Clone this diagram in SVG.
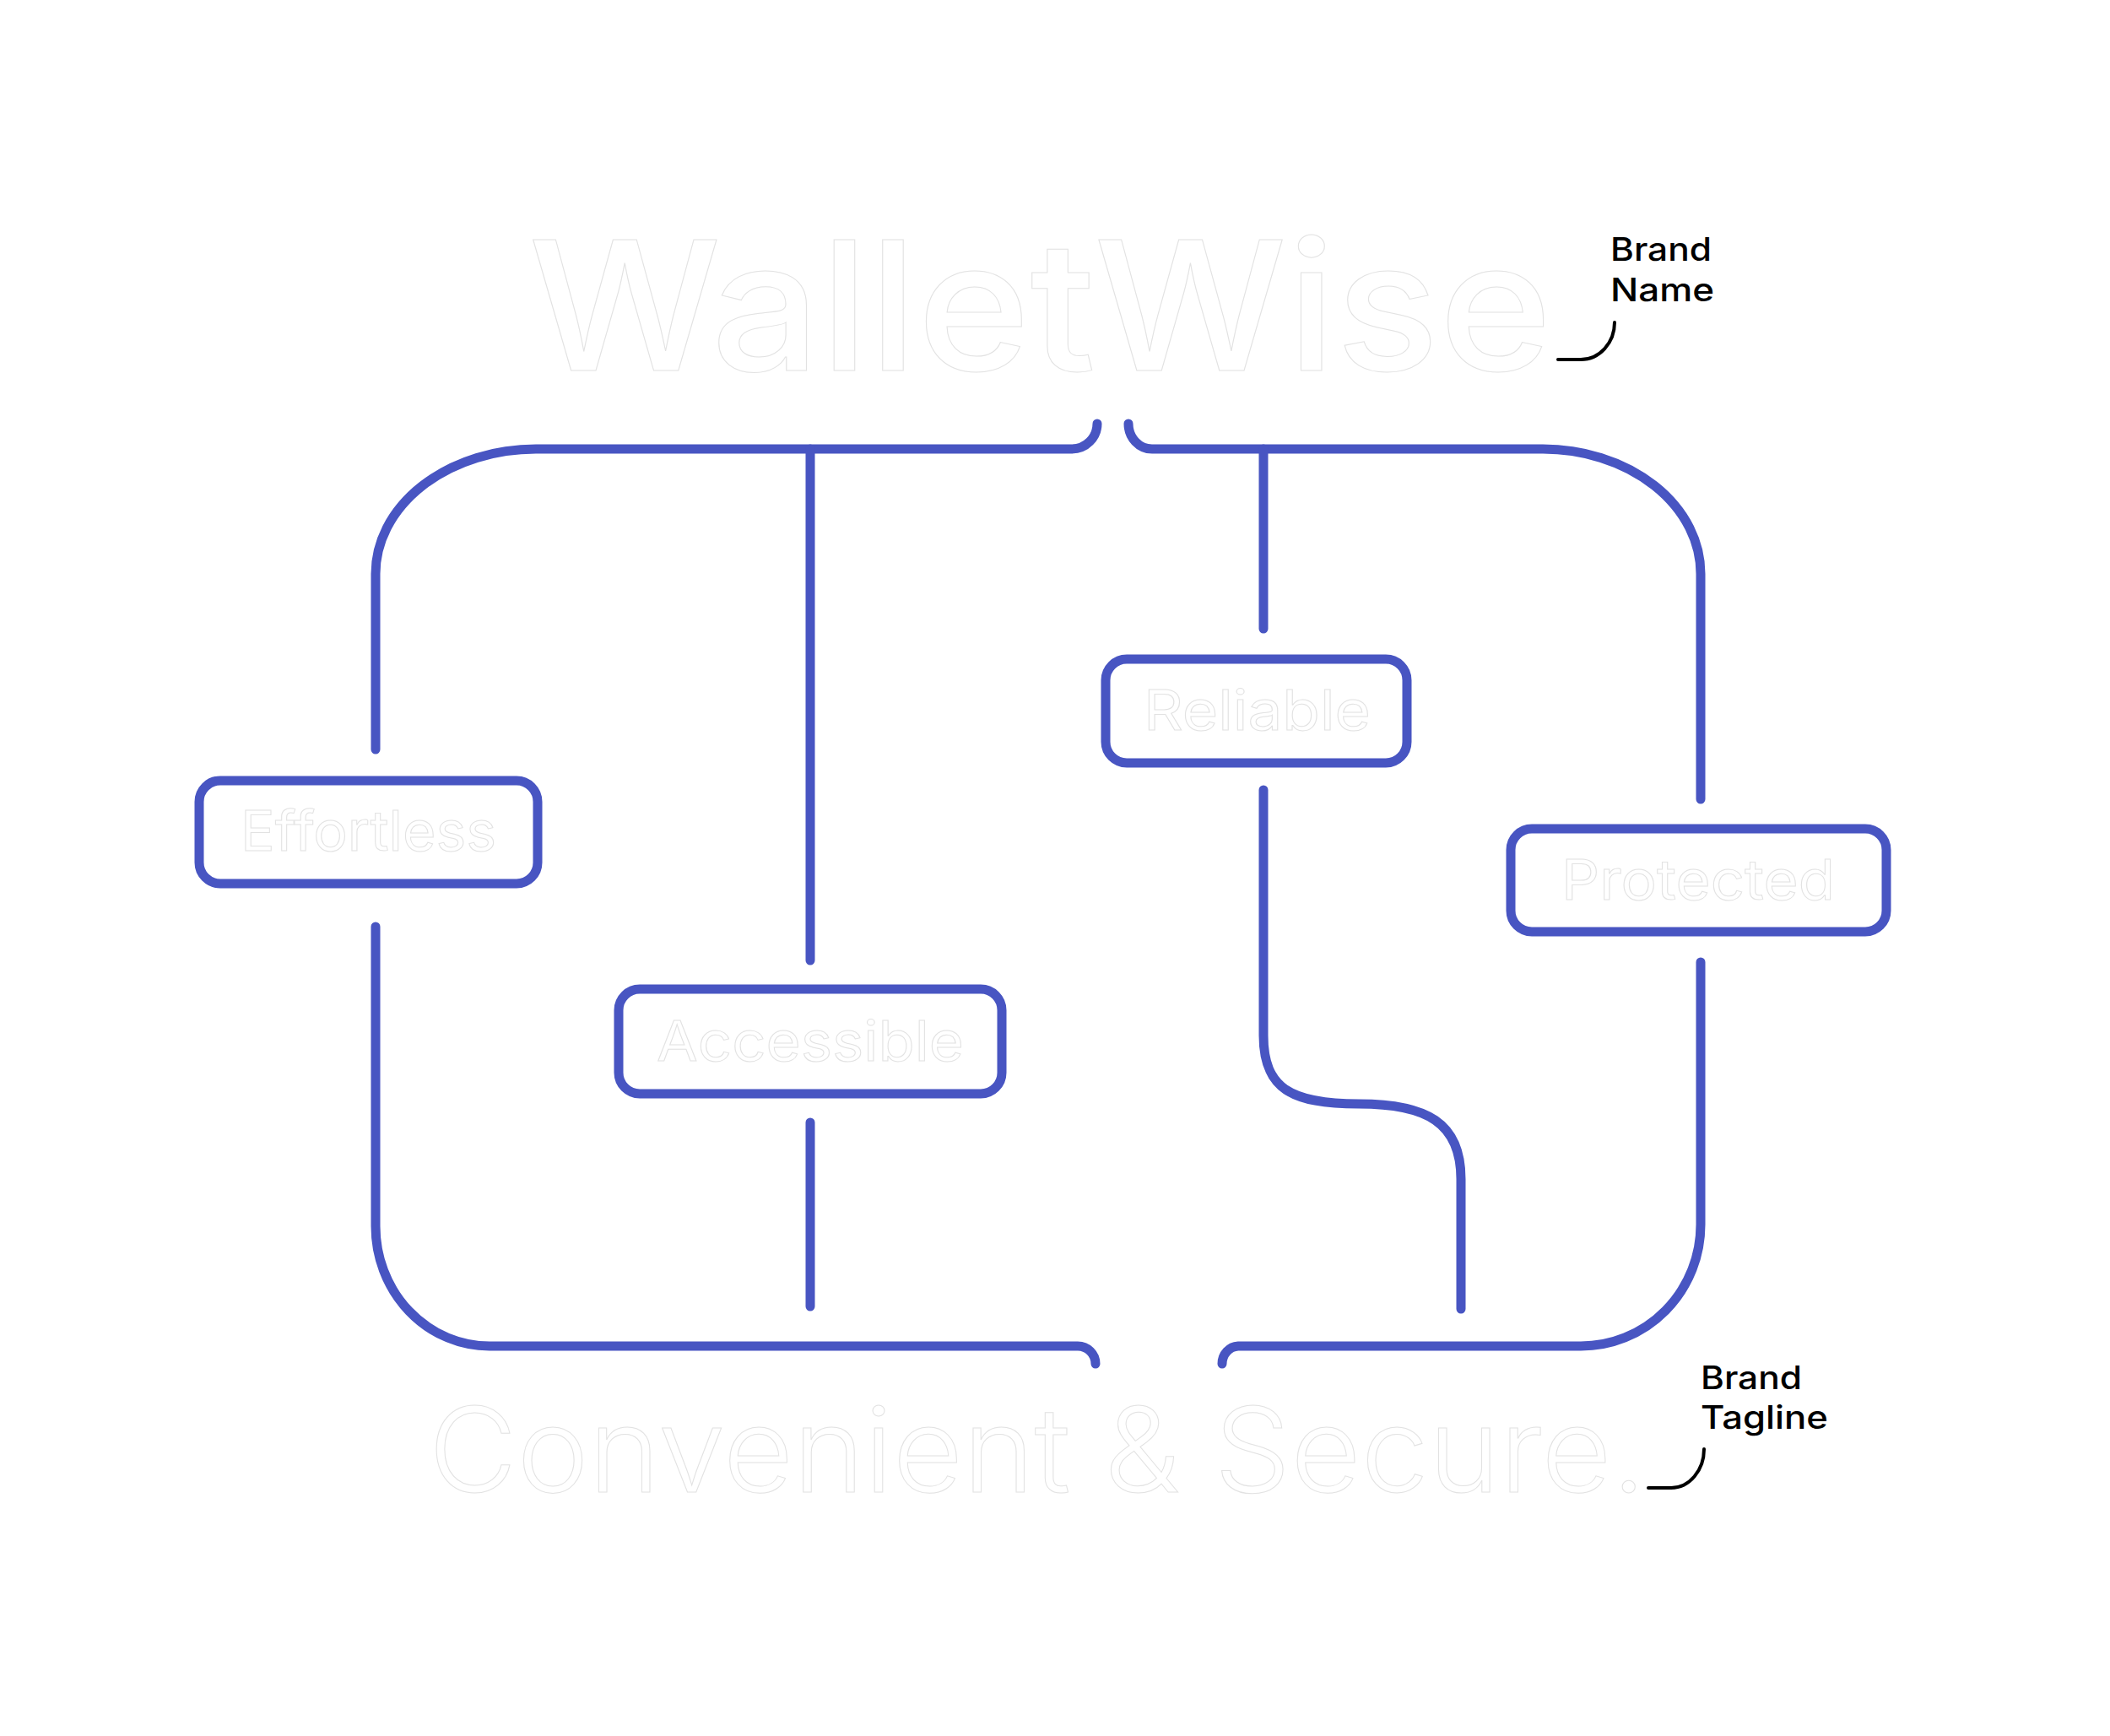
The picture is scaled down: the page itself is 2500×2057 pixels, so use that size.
<svg xmlns="http://www.w3.org/2000/svg" width="2500" height="2057" viewBox="0 0 2500 2057">
  <style>
    .conn { fill: none; stroke: #4855C2; stroke-width: 11; stroke-linecap: round; stroke-linejoin: round; }
    .box { fill: #ffffff; stroke: #4855C2; stroke-width: 11; }
    .ghost { fill: #ffffff; stroke: #e2e2e2; stroke-width: 1; font-family: Inter, "Liberation Sans", sans-serif; }
    .label { font-size: 66px; font-weight: 400; }
    .note { fill: #000000; font-family: Inter, "Liberation Sans", sans-serif; font-size: 38px; font-weight: 500; }
    .noteline { fill: none; stroke: #000000; stroke-width: 4; stroke-linecap: round; }
  </style>
  <rect x="0" y="0" width="2500" height="2057" fill="#ffffff"/>

  <g id="connectors">
    <path class="conn" d="M445,888 V680 A190,148 0 0 1 635,532 H1270 A30,30 0 0 0 1300,502"/>
    <path class="conn" d="M960,532 V1138"/>
    <path class="conn" d="M1337,502 A28,30 0 0 0 1365,532 H1828 A187,148 0 0 1 2015,680 V947"/>
    <path class="conn" d="M1497,532 V745"/>
    <path class="conn" d="M445,1098 V1453 A135,142 0 0 0 580,1595 H1277 A21,21 0 0 1 1298,1616"/>
    <path class="conn" d="M960,1330 V1548"/>
    <path class="conn" d="M1497,936 V1227 C1497,1290 1530,1308 1610,1308 C1690,1308 1731,1330 1731,1397 V1551"/>
    <path class="conn" d="M2015,1140 V1451 A142,144 0 0 1 1873,1595 H1467 A20,21 0 0 0 1448,1616"/>
  </g>

  <g id="brand-name">
    <text class="ghost" x="626" y="439" font-size="213" font-weight="500" textLength="1213" lengthAdjust="spacingAndGlyphs">WalletWise</text>
  </g>

  <g id="brand-tagline">
    <text class="ghost" x="508" y="1768" font-size="140" font-weight="300" textLength="1442" lengthAdjust="spacingAndGlyphs">Convenient &amp; Secure.</text>
  </g>

  <g id="node-effortless">
    <rect class="box" x="236" y="925" width="401" height="122" rx="25" ry="25"/>
    <text class="ghost label" x="285" y="1008" textLength="303" lengthAdjust="spacingAndGlyphs">Effortless</text>
  </g>

  <g id="node-accessible">
    <rect class="box" x="733" y="1172" width="454" height="124" rx="25" ry="25"/>
    <text class="ghost label" x="778" y="1257" textLength="364" lengthAdjust="spacingAndGlyphs">Accessible</text>
  </g>

  <g id="node-reliable">
    <rect class="box" x="1310" y="781" width="357" height="123" rx="25" ry="25"/>
    <text class="ghost label" x="1355" y="865" textLength="269" lengthAdjust="spacingAndGlyphs">Reliable</text>
  </g>

  <g id="node-protected">
    <rect class="box" x="1790" y="982" width="445" height="122" rx="25" ry="25"/>
    <text class="ghost label" x="1850" y="1066" textLength="324" lengthAdjust="spacingAndGlyphs">Protected</text>
  </g>

  <g id="note-brand-name">
    <text class="note" x="1908" y="309" textLength="120" lengthAdjust="spacingAndGlyphs">Brand</text>
    <text class="note" x="1908" y="357" textLength="123" lengthAdjust="spacingAndGlyphs">Name</text>
    <path class="noteline" d="M1913,382 A40,44 0 0 1 1873,426 H1846"/>
  </g>

  <g id="note-brand-tagline">
    <text class="note" x="2015" y="1646" textLength="120" lengthAdjust="spacingAndGlyphs">Brand</text>
    <text class="note" x="2015" y="1693" textLength="151" lengthAdjust="spacingAndGlyphs">Tagline</text>
    <path class="noteline" d="M2019,1717 A39,46 0 0 1 1980,1763 H1953"/>
  </g>
</svg>
